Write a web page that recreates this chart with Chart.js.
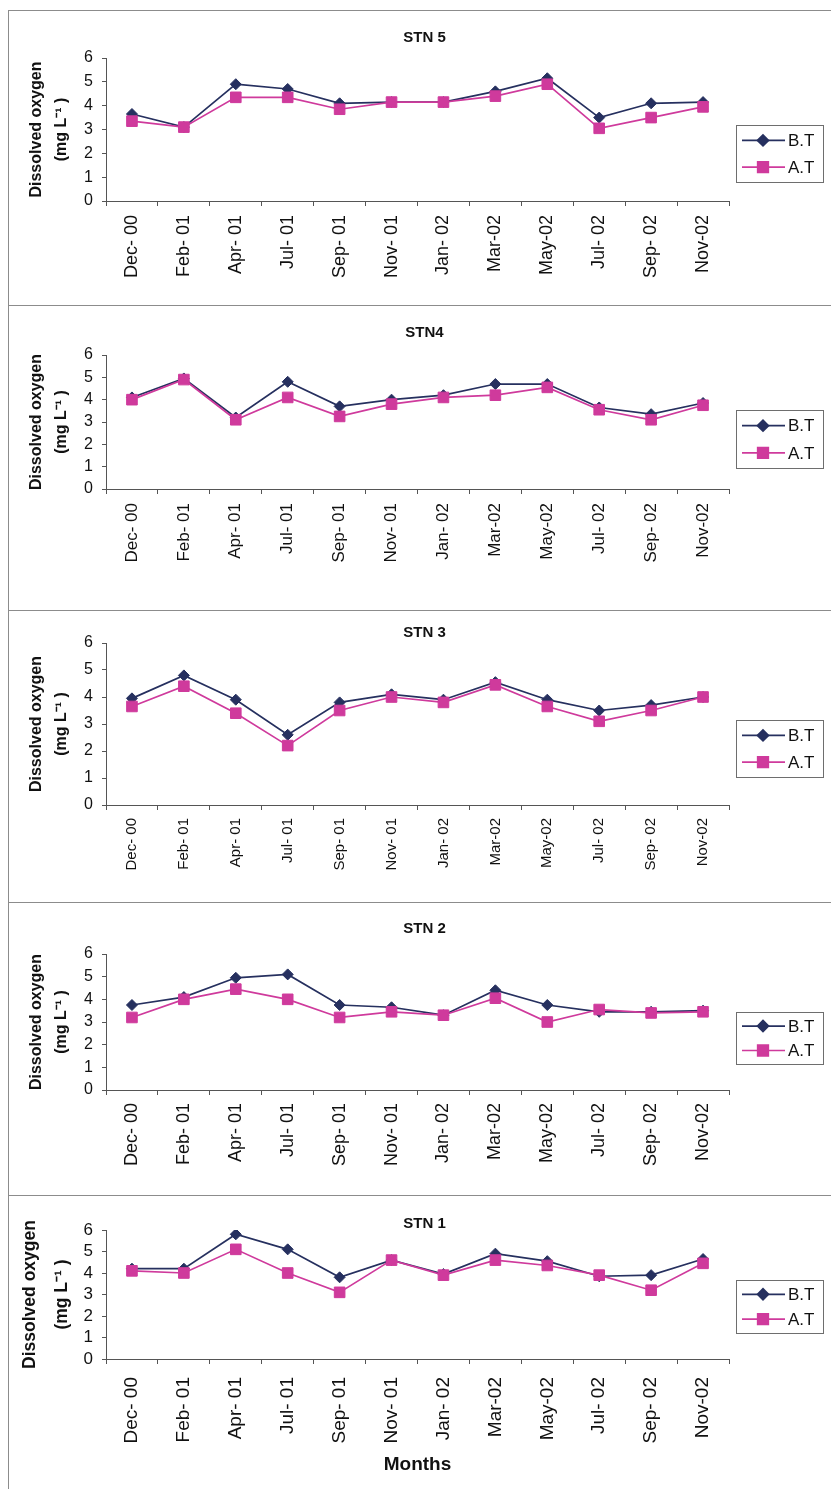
<!DOCTYPE html>
<html>
<head>
<meta charset="utf-8">
<title>Dissolved oxygen STN 1-5</title>
<script src="https://cdn.jsdelivr.net/npm/chart.js@4.4.1/dist/chart.umd.min.js"></script>
<style>
  html, body { margin: 0; padding: 0; background: #fff; }
  #page { position: relative; width: 831px; height: 1489px; overflow: hidden; background: #fff; }
  #page canvas { position: absolute; left: 0; }
  .hline { position: absolute; left: 8px; right: 0; height: 0; border-top: 1px solid #8c8c8c; }
  .vline { position: absolute; left: 8px; top: 10px; bottom: 0; width: 0; border-left: 1px solid #8c8c8c; }
</style>
</head>
<body>
<div id="page"></div>
<script>
// ---- data ----
const months = ["Dec- 00", "Feb- 01", "Apr- 01", "Jul- 01", "Sep- 01", "Nov- 01", "Jan- 02", "Mar-02", "May-02", "Jul- 02", "Sep- 02", "Nov-02"];
const stations = ["STN 5", "STN4", "STN 3", "STN 2", "STN 1"];
const seriesNames = ["B.T", "A.T"];
const yTicks = [0, 1, 2, 3, 4, 5, 6];

const stn5BT = [3.65, 3.1, 4.9, 4.7, 4.1, 4.15, 4.15, 4.6, 5.15, 3.5, 4.1, 4.15];
const stn5AT = [3.35, 3.1, 4.35, 4.35, 3.85, 4.15, 4.15, 4.4, 4.9, 3.05, 3.5, 3.95];

const stn4BT = [4.1, 4.95, 3.2, 4.8, 3.7, 4.0, 4.2, 4.7, 4.7, 3.65, 3.35, 3.85];
const stn4AT = [4.0, 4.9, 3.1, 4.1, 3.25, 3.8, 4.1, 4.2, 4.55, 3.55, 3.1, 3.75];

const stn3BT = [3.95, 4.8, 3.9, 2.6, 3.8, 4.1, 3.9, 4.55, 3.9, 3.5, 3.7, 4.0];
const stn3AT = [3.65, 4.4, 3.4, 2.2, 3.5, 4.0, 3.8, 4.45, 3.65, 3.1, 3.5, 4.0];

const stn2BT = [3.75, 4.1, 4.95, 5.1, 3.75, 3.65, 3.3, 4.4, 3.75, 3.45, 3.45, 3.5];
const stn2AT = [3.2, 4.0, 4.45, 4.0, 3.2, 3.45, 3.3, 4.05, 3.0, 3.55, 3.4, 3.45];

const stn1BT = [4.2, 4.2, 5.8, 5.1, 3.8, 4.6, 3.95, 4.9, 4.55, 3.85, 3.9, 4.65];
const stn1AT = [4.1, 4.0, 5.1, 4.0, 3.1, 4.6, 3.9, 4.6, 4.35, 3.9, 3.2, 4.45];

const btSeries = [stn5BT, stn4BT, stn3BT, stn2BT, stn1BT];
const atSeries = [stn5AT, stn4AT, stn3AT, stn2AT, stn1AT];

// ---- layout (page px, each panel canvas starts at its frame line) ----
const FONT = '"Liberation Sans", Arial, Helvetica, sans-serif';
const NAVY = "#26305f";
const PINK = "#cf3a9c";
const panels = [
  { top: 10, h: 295, plotTop: 48, plotBot: 191, titleY: 28, legY: 115, legH: 57, xFont: 18, xPad: 9, yTitleSize: 16, yTitleLh: 25, yTitlePad: 14 },
  { top: 305, h: 305, plotTop: 50, plotBot: 184, titleY: 28, legY: 105, legH: 58, xFont: 17, xPad: 9, yTitleSize: 16, yTitleLh: 25, yTitlePad: 14 },
  { top: 610, h: 292, plotTop: 33, plotBot: 195, titleY: 23, legY: 110, legH: 57, xFont: 15, xPad: 8, yTitleSize: 16, yTitleLh: 25, yTitlePad: 14 },
  { top: 902, h: 293, plotTop: 52, plotBot: 188, titleY: 27, legY: 110, legH: 52, xFont: 18, xPad: 8, yTitleSize: 16, yTitleLh: 25, yTitlePad: 14 },
  { top: 1195, h: 294, plotTop: 35, plotBot: 164, titleY: 29, legY: 85, legH: 53, xFont: 19, xPad: 13, yTitleSize: 17.5, yTitleLh: 32, yTitlePad: 4, xTitle: "Months" },
];
const PLOT_LEFT = 106;
const PLOT_RIGHT = 729;
const PAD_LEFT = 10;

const page = document.getElementById("page");

// title + boxed legend drawn on each panel
const panelDecor = {
  id: "panelDecor",
  afterDraw(chart, args, opts) {
    const ctx = chart.ctx;
    const area = chart.chartArea;
    ctx.save();
    ctx.font = `bold 15px ${FONT}`;
    ctx.fillStyle = "#111";
    ctx.textAlign = "center";
    ctx.textBaseline = "middle";
    ctx.fillText(opts.title, (area.left + area.right) / 2 + 7, opts.titleY);

    const bx = 736, by = opts.legY, bw = 87, bh = opts.legH;
    ctx.strokeStyle = "#6e6e6e";
    ctx.lineWidth = 1;
    ctx.strokeRect(bx + 0.5, by + 0.5, bw, bh);

    chart.data.datasets.forEach((ds, i) => {
      const y = by + bh * (i === 0 ? 0.27 : 0.74);
      ctx.strokeStyle = ds.borderColor;
      ctx.lineWidth = ds.borderWidth;
      ctx.beginPath();
      ctx.moveTo(bx + 6, y);
      ctx.lineTo(bx + 49, y);
      ctx.stroke();
      ctx.fillStyle = ds.pointBackgroundColor;
      ctx.strokeStyle = ds.pointBorderColor;
      Chart.helpers.drawPoint(ctx, { pointStyle: ds.pointStyle, radius: ds.pointRadius, borderWidth: 1, rotation: 0 }, bx + 27, y);
      ctx.font = `17px ${FONT}`;
      ctx.fillStyle = "#111";
      ctx.textAlign = "left";
      ctx.textBaseline = "middle";
      ctx.fillText(ds.label, bx + 52, y + 1);
    });
    ctx.restore();
  },
};

function makePanel(p, idx) {
  const canvas = document.createElement("canvas");
  canvas.width = 831;
  canvas.height = p.h;
  canvas.style.top = p.top + "px";
  page.appendChild(canvas);

  const xH = p.xTitle ? 120 : 90;

  new Chart(canvas, {
    type: "line",
    data: {
      labels: months,
      datasets: [
        {
          label: seriesNames[0],
          data: btSeries[idx],
          borderColor: NAVY,
          backgroundColor: NAVY,
          pointBackgroundColor: NAVY,
          pointBorderColor: NAVY,
          borderWidth: 1.7,
          pointStyle: "rectRot",
          pointRadius: 5.5,
          pointBorderWidth: 1,
          tension: 0,
          order: 2,
        },
        {
          label: seriesNames[1],
          data: atSeries[idx],
          borderColor: PINK,
          backgroundColor: PINK,
          pointBackgroundColor: PINK,
          pointBorderColor: PINK,
          borderWidth: 1.7,
          pointStyle: "rect",
          pointRadius: 7.5,
          pointBorderWidth: 1,
          tension: 0,
          order: 1,
        },
      ],
    },
    options: {
      responsive: false,
      animation: false,
      events: [],
      layout: {
        padding: { left: PAD_LEFT, right: 831 - PLOT_RIGHT, top: p.plotTop, bottom: p.h - p.plotBot - xH },
      },
      plugins: {
        legend: { display: false },
        tooltip: { enabled: false },
        title: { display: false },
        panelDecor: { title: stations[idx], titleY: p.titleY, legY: p.legY, legH: p.legH },
      },
      scales: {
        x: {
          type: "category",
          offset: true,
          grid: { display: true, offset: true, drawOnChartArea: false, drawTicks: true, tickLength: 5, color: "#555" },
          border: { display: true, color: "#555", width: 1 },
          ticks: {
            autoSkip: false,
            minRotation: 90,
            maxRotation: 90,
            padding: p.xPad,
            color: "#111",
            font: { family: FONT, size: p.xFont },
          },
          title: p.xTitle
            ? { display: true, text: p.xTitle, color: "#111", font: { family: FONT, size: 19, weight: "bold" }, padding: { top: 0, bottom: 3 } }
            : { display: false },
          afterFit: (s) => { s.height = xH; },
        },
        y: {
          min: yTicks[0],
          max: yTicks[yTicks.length - 1],
          afterBuildTicks: (s) => { s.ticks = yTicks.map((v) => ({ value: v })); },
          grid: { display: true, drawOnChartArea: false, drawTicks: true, tickLength: 4, color: "#555" },
          border: { display: true, color: "#555", width: 1 },
          ticks: {
            autoSkip: false,
            padding: 9,
            color: "#111",
            font: { family: FONT, size: idx === 4 ? 17 : 16 },
          },
          title: {
            display: true,
            text: ["Dissolved oxygen", "(mg L\u207B\u00B9 )"],
            color: "#111",
            font: { family: FONT, size: p.yTitleSize, weight: "bold", lineHeight: p.yTitleLh / p.yTitleSize },
            padding: { top: p.yTitlePad, bottom: 0 },
          },
          afterFit: (s) => { s.width = PLOT_LEFT - PAD_LEFT; },
        },
      },
    },
    plugins: [panelDecor],
  });
}

panels.forEach(makePanel);

// frame lines around the panels
panels.forEach((p) => {
  let line = document.createElement("div");
  line.className = "hline";
  line.style.top = p.top + "px";
  page.appendChild(line);
});
let vline = document.createElement("div");
vline.className = "vline";
page.appendChild(vline);
</script>
</body>
</html>
